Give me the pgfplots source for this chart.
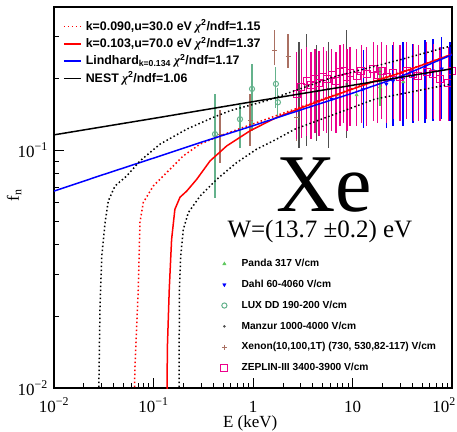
\documentclass[border=0pt]{standalone}
\usepackage{fontspec}
\setmainfont{Liberation Serif}
\setsansfont{Liberation Sans}
\newfontfamily\grk{Liberation Serif}
\usepackage{pgfplots}
\usepackage{pgfplotstable}
\pgfplotsset{compat=1.18}

\definecolor{luxc}{RGB}{100,178,140}
\definecolor{xenc}{RGB}{170,112,98}
\definecolor{manc}{RGB}{80,80,80}
\definecolor{panc}{RGB}{95,200,95}

\newcommand{\chisq}{{\grk\itshape χ}\textsuperscript{2}}

% data points: E (keV), f_n, upper and lower end of the error bar
\pgfplotstableread{
E f hi lo
6.93 0.1707 0.1936 0.1489
11.0 0.1707 0.1899 0.1533
18.9 0.1844 0.2197 0.1564
32.4 0.1936 0.2262 0.1641
}\panda

\pgfplotstableread{
E f hi lo
6.18 0.1641 0.2133 0.1227
12.8 0.1800 0.2592 0.1263
21.9 0.1899 0.2668 0.1263
25.5 0.1955 0.272 0.1288
32.2 0.1994 0.280 0.1288
40.5 0.2032 0.2747 0.1326
53.5 0.2093 0.2856 0.1326
64.4 0.2154 0.2884 0.1352
78.8 0.2197 0.294 0.1378
95.5 0.2093 0.280 0.1352
}\dahl

\pgfplotstableread{
E f hi lo
0.415 0.1168 0.1694 0.0641
0.74 0.135 0.152 0.104
0.977 0.181 0.226 0.1227
1.70 0.190 0.220 0.153
1.78 0.159 0.180 0.140
}\lux

\pgfplotstableread{
E f hi lo
2.90 0.1723 0.280 0.104
3.47 0.1862 0.3027 0.106
4.37 0.1774 0.272 0.1113
5.71 0.1809 0.280 0.104
8.75 0.1899 0.3147 0.1146
}\manzur

\pgfplotstableread{
E f hi lo
0.466 0.1168 0.1446 0.0901
0.933 0.1338 0.169 0.106
1.66 0.2617 0.315 0.2307
2.25 0.2468 0.303 0.226
2.75 0.1378 0.169 0.1113
}\xenon

\pgfplotstableread{
E f hi lo
2.75 0.1723 0.254 0.1135
3.04 0.1844 0.262 0.1146
3.47 0.1955 0.267 0.1168
3.83 0.1881 0.254 0.1135
4.20 0.1994 0.262 0.1203
4.61 0.1918 0.258 0.1168
5.09 0.2032 0.267 0.1227
5.50 0.1994 0.258 0.1203
6.18 0.2073 0.262 0.1227
6.82 0.1955 0.254 0.1203
7.48 0.2133 0.272 0.1288
8.09 0.2154 0.275 0.1326
8.81 0.2032 0.262 0.1227
9.44 0.2113 0.267 0.1288
11.0 0.2052 0.262 0.1288
12.2 0.2154 0.272 0.1326
13.9 0.2093 0.267 0.1288
16.2 0.2197 0.280 0.1352
18.0 0.2073 0.272 0.1326
19.6 0.2154 0.280 0.1378
22.1 0.2032 0.272 0.1326
25.7 0.2113 0.280 0.1378
30.0 0.2032 0.272 0.1352
35.0 0.2154 0.280 0.1378
40.8 0.2093 0.275 0.1352
45.8 0.2052 0.272 0.1352
55.7 0.2133 0.280 0.1378
64.9 0.2093 0.275 0.1378
75.7 0.1994 0.267 0.1352
91.8 0.1918 0.267 0.1352
99.3 0.2154 0.280 0.1419
}\zeplin

\begin{document}
\begin{tikzpicture}
% --- measurements, with their own legend ---
\begin{axis}[width=398pt, height=381pt, scale only axis,
  xmode=log, ymode=log, xmin=0.01, xmax=100, ymin=0.01, ymax=0.4,
  hide axis,
  legend cell align=left,
  legend style={at={(0.4120,0.3400)}, anchor=north west, draw=none, fill=none,
    inner sep=0pt, row sep=10.3pt, column sep=11pt,
    font=\sffamily\bfseries\fontsize{10.2}{12}\selectfont,
    nodes={inner sep=0pt, text height=8pt, text depth=2.5pt}},
  legend image code/.code={\path (-6pt,0pt) (6pt,0pt); \draw[#1] plot coordinates {(0pt,0pt)};},
  error bars/y dir=both, error bars/y explicit,
  error bars/error bar style={line width=1.1pt},
  error bars/error mark options={mark size=1.6pt, line width=1.1pt},
]
\addplot[only marks, panc, mark=triangle*, mark size=2pt]
  table[x=E, y=f, y error plus expr=\thisrow{hi}-\thisrow{f}, y error minus expr=\thisrow{f}-\thisrow{lo}] {\panda};
\addlegendentry{Panda 317 V/cm}
\addplot[only marks, blue, mark=triangle*, mark size=2pt, mark options={rotate=180}]
  table[x=E, y=f, y error plus expr=\thisrow{hi}-\thisrow{f}, y error minus expr=\thisrow{f}-\thisrow{lo}] {\dahl};
\addlegendentry{Dahl 60-4060 V/cm}
\addplot[only marks, luxc, mark=o, mark size=2.6pt, mark options={line width=1pt}]
  table[x=E, y=f, y error plus expr=\thisrow{hi}-\thisrow{f}, y error minus expr=\thisrow{f}-\thisrow{lo}] {\lux};
\addlegendentry{LUX DD 190-200 V/cm}
\addplot[only marks, manc, mark=*, mark size=1.1pt]
  table[x=E, y=f, y error plus expr=\thisrow{hi}-\thisrow{f}, y error minus expr=\thisrow{f}-\thisrow{lo}] {\manzur};
\addlegendentry{Manzur 1000-4000 V/cm}
\addplot[only marks, xenc, mark=+, mark size=2.5pt, mark options={line width=1pt}]
  table[x=E, y=f, y error plus expr=\thisrow{hi}-\thisrow{f}, y error minus expr=\thisrow{f}-\thisrow{lo}] {\xenon};
\addlegendentry{Xenon(10,100,1T) (730, 530,82-117) V/cm}
\addplot[only marks, magenta, mark=square, mark size=3.5pt, mark options={line width=1.2pt}]
  table[x=E, y=f, y error plus expr=\thisrow{hi}-\thisrow{f}, y error minus expr=\thisrow{f}-\thisrow{lo}] {\zeplin};
\addlegendentry{ZEPLIN-III 3400-3900 V/cm}
\end{axis}

% --- model curves, frame and labels ---
\begin{axis}[width=398pt, height=381pt, scale only axis,
  xmode=log, ymode=log, xmin=0.01, xmax=100, ymin=0.01, ymax=0.4,
  axis line style={line width=1.2pt},
  tick align=inside, tick pos=left,
  major tick length=10pt, minor tick length=5pt,
  tick style={line width=0.9pt, black},
  xtick={0.01,0.1,1,10,100},
  xticklabels={10\textsuperscript{−2},10\textsuperscript{−1},1,10,\hspace*{-16pt}10\textsuperscript{2}},
  minor xtick={0.02,0.03,0.04,0.05,0.06,0.07,0.08,0.09,0.2,0.3,0.4,0.5,0.6,0.7,0.8,0.9,2,3,4,5,6,7,8,9,20,30,40,50,60,70,80,90},
  ytick={0.01,0.1},
  yticklabels={10\textsuperscript{−2},10\textsuperscript{−1}},
  minor ytick={0.02,0.03,0.04,0.05,0.06,0.07,0.08,0.09,0.2,0.3},
  ticklabel style={font=\fontsize{17}{17}\selectfont},
  xticklabel style={anchor=base, yshift=-24pt},
  yticklabel style={anchor=east, inner sep=0pt, xshift=-6pt},
  xlabel={E (keV)}, ylabel={f\textsubscript{n}},
  label style={font=\fontsize{17}{17}\selectfont},
  xlabel style={at={(axis description cs:0.493,-0.1037)}, anchor=base},
  ylabel style={at={(axis description cs:-0.1,0.505)}, anchor=center},
  legend cell align=left,
  legend style={at={(0.0226,0.9646)}, anchor=north west, draw=none, fill=none,
    inner sep=0pt, row sep=5.3pt, column sep=4pt,
    font=\sffamily\bfseries\fontsize{12.4}{15}\selectfont,
    nodes={inner sep=0pt, text height=9.5pt, text depth=2.5pt}},
  legend image code/.code={\draw[#1, line width=1.6pt] (0pt,0pt) -- (17pt,0pt);},
]
\addplot[color=red, line width=1.5pt, dash pattern=on 1.5pt off 2.5pt] coordinates {
  (0.0637,0.008) (0.0650,0.012) (0.0682,0.0194) (0.0703,0.0259) (0.0731,0.0497)
  (0.079,0.0603) (0.0995,0.0707) (0.1358,0.0805) (0.199,0.0946) (0.293,0.106)
  (0.466,0.1149) (0.799,0.1247) (1.373,0.1352) (2.355,0.1465) (6.4,0.170)
  (16,0.195) (30,0.212) (100,0.253)};
\addlegendentry{k=0.090,u=30.0 eV \chisq/ndf=1.15}
\addplot[color=red, line width=1.5pt] coordinates {
  (0.136,0.008) (0.138,0.015) (0.144,0.026) (0.152,0.0421) (0.164,0.0564)
  (0.1846,0.0634) (0.2157,0.0673) (0.2716,0.0754) (0.370,0.0901) (0.544,0.1042)
  (0.933,0.1206) (1.73,0.1374) (3.47,0.1538) (6.37,0.169) (16.1,0.194)
  (30,0.211) (100,0.253)};
\addlegendentry{k=0.103,u=70.0 eV \chisq/ndf=1.37}
\addplot[color=blue, line width=1.5pt] coordinates {
  (0.01,0.0673) (0.03,0.0785) (0.1,0.0926) (0.3,0.1079) (1,0.1267)
  (3,0.1476) (10,0.1737) (30,0.2036) (100,0.252)};
\addlegendentry{Lindhard\textsubscript{k=0.134} \chisq/ndf=1.17}
\addplot[color=black, line width=1.5pt] coordinates {
  (0.01,0.116) (0.1,0.136) (1,0.160) (10,0.1875) (100,0.220)};
\addlegendentry{NEST \chisq/ndf=1.06}
% NEST band
\addplot[black, line width=1.5pt, dash pattern=on 1.5pt off 2.5pt, forget plot] coordinates {
  (0.0280,0.008) (0.029,0.022) (0.0302,0.0358) (0.0326,0.0495) (0.0351,0.0611)
  (0.041,0.0707) (0.0538,0.0779) (0.0731,0.0901) (0.1162,0.106) (0.2157,0.1226)
  (0.399,0.1374) (0.587,0.1465) (1.373,0.1615) (6.41,0.203) (30,0.240) (100,0.275)};
\addplot[black, line width=1.5pt, dash pattern=on 1.5pt off 2.5pt, forget plot] coordinates {
  (0.1805,0.008) (0.182,0.0259) (0.1877,0.0358) (0.1993,0.0464) (0.2237,0.0546)
  (0.2934,0.0641) (0.4316,0.0754) (0.686,0.0887) (1.089,0.101) (1.73,0.1113)
  (2.64,0.1226) (16.8,0.164) (100,0.190)};
\node[font=\fontsize{82}{82}\selectfont, anchor=base, inner sep=0pt] at (rel axis cs:0.678,0.463) {Xe};
\node[font=\fontsize{25}{25}\selectfont, anchor=base, inner sep=0pt] at (rel axis cs:0.6680,0.396) {W=(13.7 ±0.2) eV};
\end{axis}
\pgfresetboundingbox
\useasboundingbox (-54pt,-43pt) rectangle (403pt,388pt);
\end{tikzpicture}
\end{document}
